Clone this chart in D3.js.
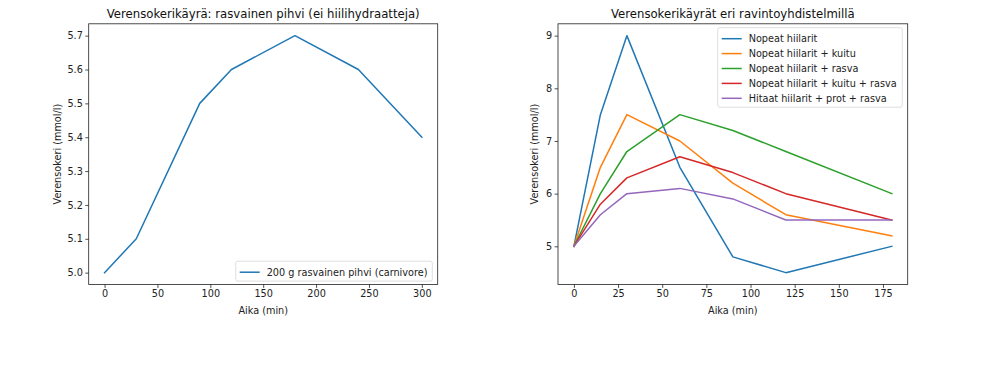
<!DOCTYPE html>
<html>
<head>
<meta charset="utf-8">
<script src="https://cdn.jsdelivr.net/npm/d3@7"></script>
<style>
  body { margin: 0; background: #fff; }
  svg { font-family: "DejaVu Sans", sans-serif; }
</style>
</head>
<body>
<script>
// left chart: fatty steak
const steakTimes = [0, 30, 90, 120, 180, 240, 300];
const steakValues = [5.0, 5.1, 5.5, 5.6, 5.7, 5.6, 5.4];
const steakLabel = '200 g rasvainen pihvi (carnivore)';

// right chart: food combinations
const mealTimes = [0, 15, 30, 60, 90, 120, 180];
const mealNames = [
  'Nopeat hiilarit',
  'Nopeat hiilarit + kuitu',
  'Nopeat hiilarit + rasva',
  'Nopeat hiilarit + kuitu + rasva',
  'Hitaat hiilarit + prot + rasva'
];
const fastCarbs = [5, 7.5, 9, 6.5, 4.8, 4.5, 5.0];
const fastCarbsFiber = [5, 6.5, 7.5, 7.0, 6.2, 5.6, 5.2];
const fastCarbsFat = [5, 6.0, 6.8, 7.5, 7.2, 6.8, 6.0];
const fastCarbsFiberFat = [5, 5.8, 6.3, 6.7, 6.4, 6.0, 5.5];
const slowCarbsProtFat = [5, 5.6, 6.0, 6.1, 5.9, 5.5, 5.5];

const leftXTicks = [0, 50, 100, 150, 200, 250, 300];
const leftYTicks = [5.0, 5.1, 5.2, 5.3, 5.4, 5.5, 5.6, 5.7];
const rightXTicks = [0, 25, 50, 75, 100, 125, 150, 175];
const rightYTicks = [5, 6, 7, 8, 9];

const colors = ['#1f77b4', '#ff7f0e', '#2ca02c', '#d62728', '#9467bd'];

const width = 999, height = 377;
const fontSize = 9.7;

const svg = d3.select('body')
  .append('svg')
  .attr('width', width)
  .attr('height', height);

// draws one subplot (matplotlib style, 5% padding)
function drawPanel(box, times, seriesList, xTicks, yTicks, yFormat, title) {
  const allY = seriesList.flatMap(s => s.values);
  const xMin = d3.min(times), xMax = d3.max(times);
  const yMin = d3.min(allY), yMax = d3.max(allY);
  const xPad = (xMax - xMin) * 0.05, yPad = (yMax - yMin) * 0.05;

  const x = d3.scaleLinear()
    .domain([xMin - xPad, xMax + xPad])
    .range([box.left, box.right]);
  const y = d3.scaleLinear()
    .domain([yMin - yPad, yMax + yPad])
    .range([box.bottom, box.top]);

  const g = svg.append('g');

  // lines
  const line = d3.line()
    .x((d, i) => x(times[i]))
    .y(d => y(d));
  g.selectAll('path.series')
    .data(seriesList)
    .join('path')
    .attr('class', 'series')
    .attr('d', d => line(d.values))
    .attr('fill', 'none')
    .attr('stroke', d => d.color)
    .attr('stroke-width', 1.5)
    .attr('stroke-linejoin', 'round')
    .attr('stroke-linecap', 'square');

  // axes
  const xAxis = d3.axisBottom(x).tickValues(xTicks).tickSize(3.4).tickPadding(2.5);
  const yAxis = d3.axisLeft(y).tickValues(yTicks).tickSize(3.4).tickPadding(2.5).tickFormat(yFormat);

  const gx = g.append('g')
    .attr('transform', `translate(0,${box.bottom})`)
    .call(xAxis);
  const gy = g.append('g')
    .attr('transform', `translate(${box.left},0)`)
    .call(yAxis);
  [gx, gy].forEach(a => {
    a.select('.domain').remove();
    a.selectAll('line').attr('stroke', '#222').attr('stroke-width', 0.8);
    a.selectAll('text').attr('fill', '#222').style('font-size', fontSize + 'px')
      .style('font-family', '"DejaVu Sans", sans-serif');
  });

  // frame
  g.append('rect')
    .attr('x', box.left)
    .attr('y', box.top)
    .attr('width', box.right - box.left)
    .attr('height', box.bottom - box.top)
    .attr('fill', 'none')
    .attr('stroke', '#222')
    .attr('stroke-width', 0.8);

  // title and labels
  g.append('text')
    .attr('x', (box.left + box.right) / 2)
    .attr('y', box.top - 6)
    .attr('text-anchor', 'middle')
    .style('font-size', '11.7px')
    .attr('fill', '#111')
    .text(title);

  g.append('text')
    .attr('x', (box.left + box.right) / 2)
    .attr('y', box.bottom + 29)
    .attr('text-anchor', 'middle')
    .style('font-size', fontSize + 'px')
    .attr('fill', '#222')
    .text('Aika (min)');

  g.append('text')
    .attr('transform', `translate(${box.left - box.ylabelOffset},${(box.top + box.bottom) / 2}) rotate(-90)`)
    .attr('text-anchor', 'middle')
    .style('font-size', fontSize + 'px')
    .attr('fill', '#222')
    .text('Verensokeri (mmol/l)');

  return g;
}

function drawLegend(g, items, lx, ly, w) {
  const rowH = 14.9;
  const lg = g.append('g');
  lg.append('rect')
    .attr('x', lx)
    .attr('y', ly)
    .attr('width', w)
    .attr('height', rowH * items.length + 5)
    .attr('rx', 2)
    .attr('fill', 'rgba(255,255,255,0.8)')
    .attr('stroke', '#d6d6d6')
    .attr('stroke-width', 0.8);
  const rows = lg.selectAll('g.row')
    .data(items)
    .join('g')
    .attr('class', 'row')
    .attr('transform', (d, i) => `translate(${lx},${ly + 11 + i * rowH})`);
  rows.append('line')
    .attr('x1', 4).attr('x2', 24)
    .attr('y1', 0).attr('y2', 0)
    .attr('stroke', d => d.color)
    .attr('stroke-width', 1.5);
  rows.append('text')
    .attr('x', 31)
    .attr('y', 3.5)
    .style('font-size', fontSize + 'px')
    .attr('fill', '#222')
    .text(d => d.name);
}

// left panel
const leftBox = { left: 88.7, right: 437.7, top: 23.8, bottom: 284.5, ylabelOffset: 28 };
const leftSeries = [{ name: steakLabel, values: steakValues, color: colors[0] }];
const gl = drawPanel(leftBox, steakTimes, leftSeries, leftXTicks, leftYTicks, d3.format('.1f'),
  'Verensokerikäyrä: rasvainen pihvi (ei hiilihydraatteja)');
drawLegend(gl, leftSeries, 235.7, 261.2, 196.6);

// right panel
const rightBox = { left: 558, right: 907.7, top: 23.8, bottom: 284.5, ylabelOffset: 20 };
const mealValues = [fastCarbs, fastCarbsFiber, fastCarbsFat, fastCarbsFiberFat, slowCarbsProtFat];
const rightSeries = mealNames.map((n, i) => ({ name: n, values: mealValues[i], color: colors[i] }));
const gr = drawPanel(rightBox, mealTimes, rightSeries, rightXTicks, rightYTicks, d3.format('d'),
  'Verensokerikäyrät eri ravintoyhdistelmillä');
drawLegend(gr, rightSeries, 717.7, 27.7, 184.6);
</script>
</body>
</html>
